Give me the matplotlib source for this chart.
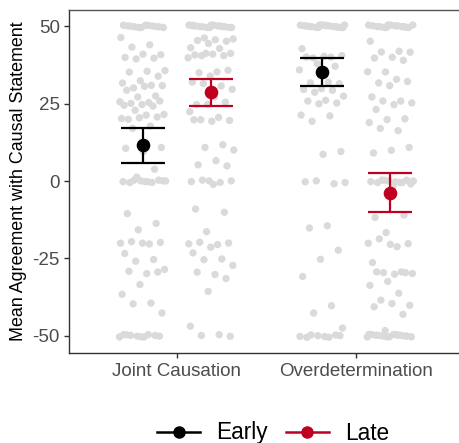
import numpy as np
import matplotlib
matplotlib.use("Agg")
import matplotlib.pyplot as plt
from matplotlib.lines import Line2D

plt.rcParams["font.family"] = ["Liberation Sans", "DejaVu Sans"]

categories = ["Joint Causation", "Overdetermination"]
groups = ["Early", "Late"]

# Means and error bar bounds
means = {"Early": [11.6, 35.3], "Late": [28.6, -3.8]}
upper = {"Early": [17.2, 39.6], "Late": [33.0, 2.7]}
lower = {"Early": [5.8, 30.6], "Late": [24.2, -10.1]}

# Individual responses (estimated)
joint_early = ([50] * 12 + [46, 43.9, 43.4, 41.2, 40.6, 39.8, 39.8, 39.8,
               35.3, 35.3, 35.3, 34.2, 32, 31.5, 31, 30.4, 30.4, 30.4, 29.4, 27.8, 26.7,
               25.4, 25.4, 25.4, 25.4, 24.5, 24.5, 24.5, 22.4, 21.3, 21.3,
               20.2, 20.2, 20.2, 20.2, 18, 16.5, 10.6, 9.5, 10.8, 4.3, 1]
               + [0] * 10 +
               [-10.1, -14, -15.8, -19.9, -19.9, -19.9, -19.9, -19.9, -23, -25.7, -26,
                -28.4, -29.5, -29.5, -29.5, -33.3, -36.2, -39.8, -39.8, -42.5]
               + [-50] * 10)
joint_late = ([50] * 16 + [46.6, 45.5, 45.5, 45.5, 45.5, 44, 42.9, 42.9,
              40.8, 40.8, 40.8, 40.8, 40.8, 40.8, 39.6,
              35.3, 35.3, 35.3, 33.7, 32, 31, 31, 29.4, 27.2, 25, 25, 24.5, 22.4,
              20.8, 19.3, 19.3, 19.3, 20, 12.2, 10.6, 10, 6.8, 5.7, 4.6]
              + [0] * 5 +
              [-0.9, -8.6, -10.4, -16.4, -20.1, -20.1, -20.1, -20.1, -21.2, -22.8,
               -25.5, -25.5, -27.1, -29.8, -29.8, -31.6, -35.5, -46.5]
              + [-50] * 3)
over_early = ([50] * 18 + [42.6, 40.1, 40.1, 40.1, 40.1, 40.1, 37.4, 37.4, 35.7,
              32, 32, 31, 29.6, 29.6, 29.6, 28.2, 27.2, 26.1, 26.1, 24.7, 24.7,
              21.3, 21.3, 18.8, 9.3, 8.6, 0, -0.4, -0.2, -0.5,
              -14.2, -14.7, -22.6, -25.3, -30.6, -39.8, -42.9, -47.5]
              + [-50] * 8)
over_late = ([50] * 15 + [45, 42, 42, 41.2, 39.8, 39.8, 39.3, 34.8, 35.1, 32.9, 32,
             31.7, 30.6, 27.2, 26.1, 25.4, 25, 24.7, 23.4, 19.6, 19.6, 18.9, 16.5, 16.5,
             10.6, 9.9, 9.3]
             + [0] * 10 +
             [-1, -1.6, -11.3, -11.3, -16.7, -19.9, -20.8, -19, -20.3, -20.3, -25.9,
              -29.7, -29.7, -29.7, -29.7, -29.7, -29.7, -32.3, -33.3, -36.6, -38.6,
              -40.0, -39.2, -41, -43.2, -48.2]
             + [-50] * 15)

responses = {("Early", 0): joint_early, ("Late", 0): joint_late,
             ("Early", 1): over_early, ("Late", 1): over_late}

colors = {"Early": "#000000", "Late": "#C00020"}
dodge = {"Early": -0.19, "Late": 0.19}

W, H = 459, 443
fig = plt.figure(figsize=(W / 100, H / 100), dpi=100)
ax = fig.add_axes([69 / W, (H - 353) / H, (464 - 69) / W, (353 - 10) / H])

x_base = np.arange(1, len(categories) + 1)

# deterministic low-discrepancy jitter
phi = (np.sqrt(5) - 1) / 2
phi2 = 0.7548776662466927
for (g, ci), vals in responses.items():
    vals = np.asarray(vals, dtype=float)
    n = len(vals)
    k = np.arange(1, n + 1) + 7 * ci + (3 if g == "Late" else 0)
    jx = ((k * phi) % 1.0 - 0.5) * 2 * 0.13
    jy = ((k * phi2) % 1.0 - 0.5) * 2 * 0.5
    ax.scatter(x_base[ci] + dodge[g] + jx, vals + jy, s=28, color="#DADADA",
               edgecolors="none", zorder=1)

for g in groups:
    xs = x_base + dodge[g]
    m = np.array(means[g])
    lo = m - np.array(lower[g])
    hi = np.array(upper[g]) - m
    ax.errorbar(xs, m, yerr=[lo, hi], fmt="none", ecolor=colors[g],
                elinewidth=1.6, capsize=15.8, capthick=1.6, zorder=3)
    ax.plot(xs, m, "o", color=colors[g], markersize=8.8, zorder=4)

ax.set_xlim(0.4, 2.6)
ax.set_ylim(-55.5, 55.2)
ax.set_xticks(x_base)
ax.set_xticklabels(categories)
ax.set_yticks([-50, -25, 0, 25, 50])
ax.set_yticklabels(["-50", "-25", "0", "25", "50"])
ax.tick_params(axis="both", colors="#333333", labelcolor="#4D4D4D",
               labelsize=13.5, length=3.5, width=1)
ax.tick_params(axis="x", pad=4)
ax.tick_params(axis="y", pad=3)
for s in ax.spines.values():
    s.set_color("#333333")
    s.set_linewidth(1.0)
ax.spines["top"].set_color("#555555")
ax.spines["right"].set_visible(False)
ax.set_ylabel("Mean Agreement with Causal Statement", fontsize=12.9,
              color="black", labelpad=4)

handles = [Line2D([], [], color=colors[g], marker="o", markersize=8,
                  linewidth=1.8) for g in groups]
fig.legend(handles, groups, loc="center", bbox_to_anchor=(273 / W, 10 / H),
           ncol=2, frameon=False, fontsize=16.3, handlelength=1.9,
           columnspacing=0.8, handletextpad=0.7)

fig.savefig("out.png", dpi=100)
